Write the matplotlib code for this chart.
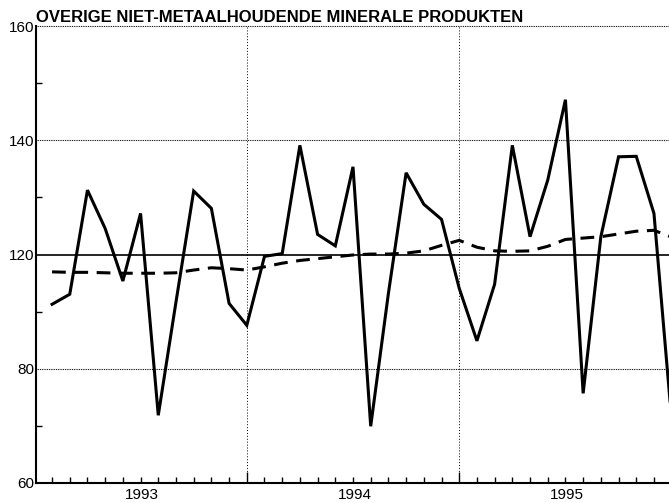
import numpy as np
from matplotlib import pyplot as plt
from matplotlib import transforms

plt.rcParams['font.family'] = ['Liberation Sans', 'DejaVu Sans']

# months since start of 1993 (1 = Jan 1993 point)
months = np.arange(1, 37)

# monthly index (solid) and trend (dashed), in axis units
index = [99.1, 101.3, 124.1, 115.7, 104.2, 119.0, 74.8, 99.6, 123.9, 120.1, 99.3, 94.5,
         109.6, 110.2, 133.9, 114.4, 111.9, 129.2, 72.4, 101.5, 127.9, 121.0, 117.7, 102.6,
         91.1, 103.5, 133.9, 113.9, 126.3, 143.9, 79.6, 113.9, 131.4, 131.5, 119.0, 73.7]
trend = [106.2, 106.1, 106.1, 106.0, 105.9, 105.9, 105.9, 106.0, 106.6, 107.1, 106.9, 106.6,
         107.3, 108.1, 108.7, 109.1, 109.5, 109.9, 110.1, 110.1, 110.3, 110.8, 112.0, 113.1,
         111.6, 110.8, 110.7, 110.8, 111.8, 113.3, 113.6, 113.9, 114.5, 115.1, 115.3, 113.8]

ytick_pos = [60, 85, 110, 135, 160]
ytick_lab = ['60', '80', '120', '140', '160']
years = ['1993', '1994', '1995']
year_mid = [6, 18, 30]
year_edges = [12, 24]
baseline = 110

fig = plt.figure(figsize=(6.69, 5.03), dpi=100)
ax = fig.add_axes([0.054, 0.040, 0.946, 0.908])

ax.plot(months, index, color='black', lw=2.2, solid_joinstyle='miter', zorder=3)
ax.plot(months, trend, color='black', lw=2.2, dashes=(4.5, 2.8), zorder=3)

# grid lines
ax.axhline(baseline, color='black', lw=1.2, zorder=2)
for y in [85, 135, 160]:
    ax.axhline(y, color='black', lw=0.8, ls=(0, (0.8, 0.8)), zorder=1, clip_on=False)
for x in year_edges:
    ax.axvline(x, color='black', lw=0.7, ls=(0, (1, 2)), zorder=1)

ax.set_xlim(0.1, 35.85)
ax.set_ylim(60, 160)

ax.spines['top'].set_visible(False)
ax.spines['right'].set_visible(False)
ax.spines['left'].set_linewidth(1.5)
ax.spines['bottom'].set_linewidth(1.5)

ax.set_yticks(ytick_pos)
ax.set_yticklabels(ytick_lab, fontsize=11)
ax.set_yticks([72.5, 97.5, 122.5, 147.5], minor=True)
ax.tick_params(axis='y', which='major', length=0, pad=1)
ax.tick_params(axis='y', which='minor', direction='in', length=4, width=1)

ax.set_xticks(year_edges)
ax.set_xticklabels([])
ax.set_xticks(months[:-1], minor=True)
ax.tick_params(axis='x', which='major', direction='in', length=8, width=1)
ax.tick_params(axis='x', which='minor', direction='in', length=4, width=1)

trans = transforms.blended_transform_factory(ax.transData, ax.transAxes)
for x, lab in zip(year_mid, years):
    ax.text(x + 0.1, -0.012, lab, transform=trans, ha='center', va='top', fontsize=11)

ax.text(0.0, 1.003, 'OVERIGE NIET-METAALHOUDENDE MINERALE PRODUKTEN',
        transform=ax.transAxes, ha='left', va='bottom', fontsize=12, fontweight='bold')

fig.savefig('out.png', dpi=100)
